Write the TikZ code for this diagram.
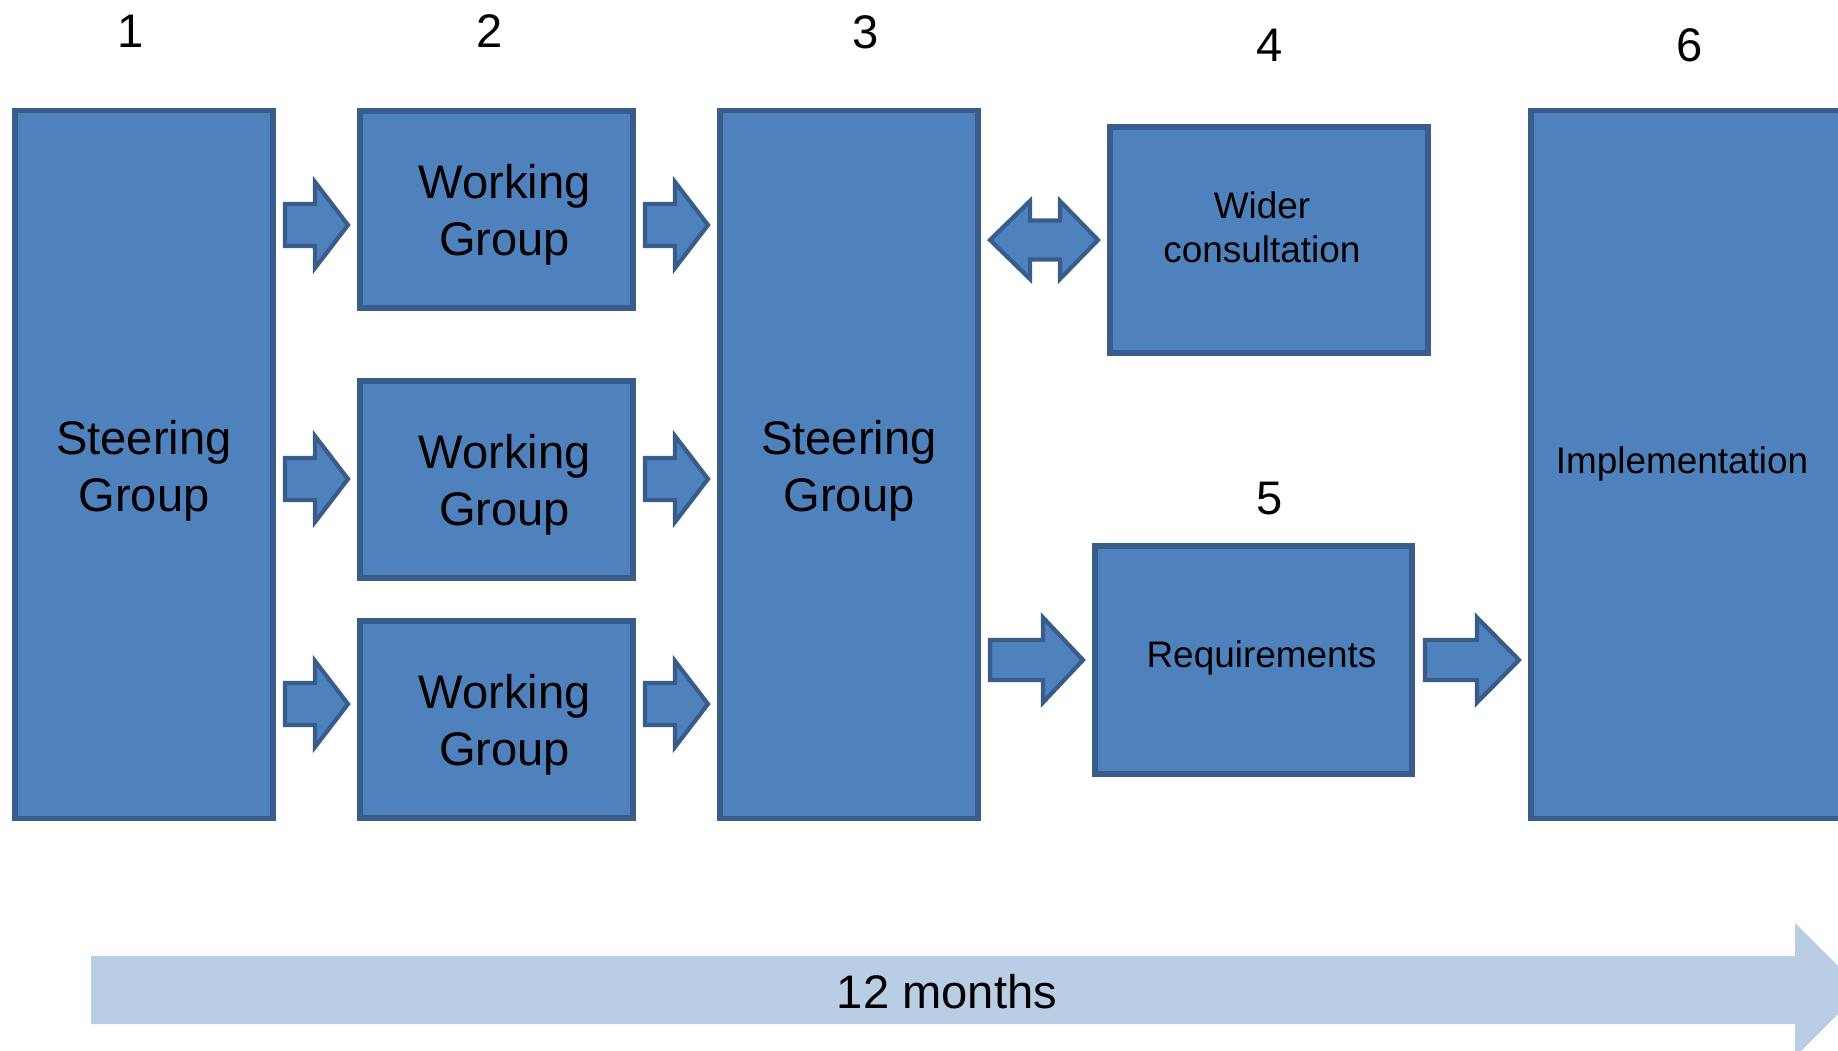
\documentclass[tikz,border=0pt]{standalone}
\usepackage{fontspec}
\setmainfont{Liberation Sans}
\usetikzlibrary{positioning}

\definecolor{boxblue}{HTML}{4F81BD}
\definecolor{boxline}{HTML}{385D8A}
\definecolor{barblue}{HTML}{B9CDE5}

\begin{document}
\begin{tikzpicture}[x=0.01cm, y=-0.01cm,
 box/.style={draw=boxline, fill=boxblue, line width=1.5pt},
 big/.style={font=\fontsize{13.4}{16.2}\selectfont, align=center},
 small/.style={font=\fontsize{10.5}{12.6}\selectfont, align=center},
 fat/.style={draw=boxline, fill=boxblue, line width=1.2pt}]

  \useasboundingbox (0,0) rectangle (1838,1051);
  \clip (0,0) rectangle (1838,1051);

  \node[box, minimum width=2.58cm, minimum height=7.07cm,
   label={[big, yshift=-0.06cm]center:Steering\\Group}] (sg1) at (144,464.5) {};
  \foreach \i/\y in {1/209.5, 2/479.5, 3/719.5}
   \node[box, minimum width=2.73cm, minimum height=1.97cm,
    label={[big, xshift=0.08cm, yshift=-0.05cm]center:Working\\Group}] (wg\i) at (496.5,\y) {};
  \node[box, minimum width=2.58cm, minimum height=7.07cm,
   label={[big, yshift=-0.06cm]center:Steering\\Group}] (sg3) at (849,464.5) {};
  \node[box, minimum width=3.18cm, minimum height=2.26cm,
   label={[small, xshift=-0.07cm, yshift=0.13cm]center:Wider\\consultation}] (wider) at (1269,240) {};
  \node[box, minimum width=3.17cm, minimum height=2.28cm,
   label={[small, xshift=0.08cm, yshift=0.02cm]center:Requirements}] (req) at (1253.5,660) {};
  \node[box, minimum width=3.4cm, minimum height=7.07cm,
   label={[small, xshift=-0.19cm, yshift=0.01cm]center:Implementation}] (impl) at (1701,464.5) {};

  \foreach \n/\x/\y in {1/131/31.5, 2/490/31.5, 3/866/32, 4/1270/45, 5/1270/499, 6/1690/45}
   \node[big] (n\n) at (\x,\y) {\n};

  \foreach \x/\y in {285/225, 285/479, 285/704, 645/225, 645/479, 645/704}
   \draw[fat] (\x,\y-21) -- (\x+30,\y-21) -- (\x+30,\y-43) -- (\x+63,\y)
    -- (\x+30,\y+43) -- (\x+30,\y+21) -- (\x,\y+21) -- cycle;

  \foreach \x/\b/\t in {990/1043/1083, 1425/1477/1519}
   \draw[fat] (\x,640) -- (\b,640) -- (\b,617.5) -- (\t,660)
    -- (\b,702.5) -- (\b,680) -- (\x,680) -- cycle;

  \draw[fat] (990,240) -- (1030,201) -- (1030,220.5) -- (1060,220.5) -- (1060,201)
   -- (1098,240) -- (1060,279) -- (1060,259.5) -- (1030,259.5) -- (1030,279) -- cycle;

  \fill[barblue] (91,956) -- (1795,956) -- (1795,923) -- (1862,990)
   -- (1795,1057) -- (1795,1024) -- (91,1024) -- cycle;
  \node[big] (span) at (947,992) {12 months};

\end{tikzpicture}
\end{document}
